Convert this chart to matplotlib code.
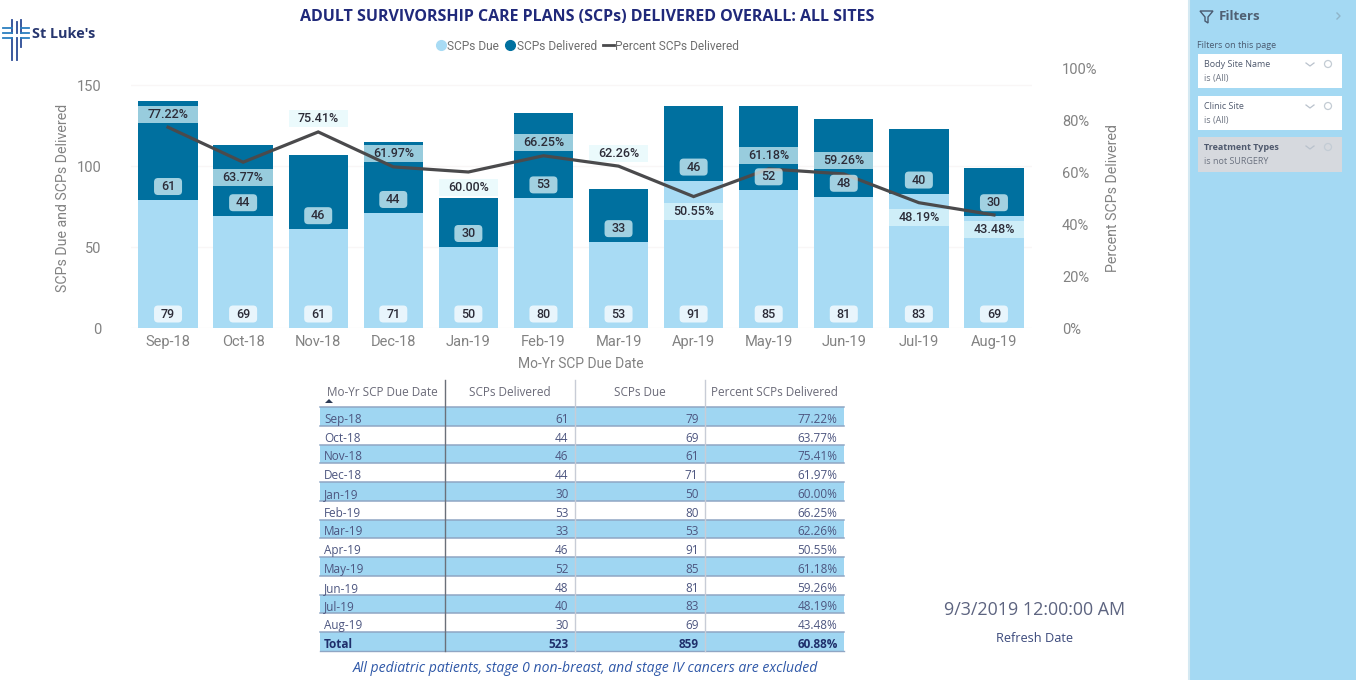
import matplotlib
matplotlib.use("Agg")
import matplotlib.pyplot as plt
from matplotlib.lines import Line2D
from matplotlib.patches import Rectangle, Polygon, FancyBboxPatch, Circle

months = ["Sep-18","Oct-18","Nov-18","Dec-18","Jan-19","Feb-19","Mar-19","Apr-19","May-19","Jun-19","Jul-19","Aug-19"]
due = [79,69,61,71,50,80,53,91,85,81,83,69]
delivered = [61,44,46,44,30,53,33,46,52,48,40,30]
percent = [77.22,63.77,75.41,61.97,60.00,66.25,62.26,50.55,61.18,59.26,48.19,43.48]
pct_above = [True,False,True,True,False,True,True,False,True,True,False,False]
totals = ["Total","523","859","60.88%"]
headers = ["Mo-Yr SCP Due Date","SCPs Delivered","SCPs Due","Percent SCPs Delivered"]

W, H = 1356, 680
LIGHT, DARK, LINE = "#a8dbf4", "#00709f", "#4a4a4c"
GREY, NAVY, TBL = "#828282", "#20297a", "#4d5680"
CHART_FONT = ["Roboto", "DejaVu Sans"]
UI_FONT = ["Open Sans", "DejaVu Sans"]
plt.rcParams["font.family"] = CHART_FONT

fig = plt.figure(figsize=(W/100, H/100), dpi=100, facecolor="white")

# full-figure pixel canvas for the report furniture
bg = fig.add_axes([0, 0, 1, 1], zorder=0)
bg.set_xlim(0, W); bg.set_ylim(H, 0); bg.axis("off")

# chart axes
L, R, T, B = 130.5, 1031.5, 68, 328
ax = fig.add_axes([L/W, 1-B/H, (R-L)/W, (B-T)/H], zorder=1)
ax.patch.set_alpha(0)
ax2 = ax.twinx()
ax2.patch.set_alpha(0)
PX1 = 100/(B-T)                 # secondary-axis units per pixel
PXX = 12/(R-L)                  # category units per pixel
ymax = (B-T)/1.62
x = list(range(len(months)))
ax.set_xlim(-0.5, 11.5); ax.set_ylim(0, ymax); ax2.set_ylim(0, 100)
ax.bar(x, due, width=0.79, color=LIGHT, zorder=2)
ax.bar(x, delivered, width=0.79, bottom=due, color=DARK, zorder=2)
ax.set_yticks([0, 50, 100, 150])
ax.yaxis.grid(True, color="#f9f6f6", lw=1); ax.set_axisbelow(True)
ax2.set_yticks([0, 20, 40, 60, 80, 100]); ax2.set_yticklabels([f"{v}%" for v in [0,20,40,60,80,100]])
ax.set_xticks(x); ax.set_xticklabels(months)
for a in (ax, ax2):
    for s in a.spines.values():
        s.set_visible(False)
    a.tick_params(length=0, labelsize=10.5, labelcolor=GREY)
ax.tick_params(axis="x", pad=5)
ax.tick_params(axis="y", pad=21)
ax2.tick_params(axis="y", pad=22)
ax.set_xlabel("Mo-Yr SCP Due Date", fontsize=10, color=GREY, labelpad=6)
ax.set_ylabel("SCPs Due and SCPs Delivered", fontsize=10.2, color=GREY, labelpad=5)
ax2.set_ylabel("Percent SCPs Delivered", fontsize=10.2, color=GREY, labelpad=6)

ax2.plot(x, percent, color=LINE, lw=2.3, zorder=3, solid_joinstyle="miter")
lab = dict(ha="center", va="center", fontsize=9, fontweight="medium", color="#2c2c38", zorder=5,
           textcoords="offset points", xycoords=("data", "data"))

def chip(cx, cy, fc, alpha):
    w, h = 28*PXX, 17*PX1
    ax2.add_patch(FancyBboxPatch((cx-w/2, cy-h/2), w, h, boxstyle=f"round,pad=0,rounding_size={4*PXX}",
                                 mutation_aspect=PX1/PXX, fc=fc, ec="none", alpha=alpha, zorder=4))

for i in x:
    off = 13 if pct_above[i] else -15
    yc = percent[i] + off*PX1
    ax2.add_patch(Rectangle((i-0.395, yc-8.5*PX1), 0.79, 17*PX1, fc="#e2f8fb", ec="none", alpha=0.68, zorder=2))
    ax2.annotate(f"{percent[i]:.2f}%", (i, percent[i]), xytext=(0, off*0.72), **lab)
    # due and delivered labels, anchored to the bottom of their own segments
    yd = due[i]*(100/ymax)
    chip(i, yd + 13.5*PX1, "#e2f8fb", 0.72)
    ax2.annotate(str(delivered[i]), (i, yd), xytext=(0, 13.5*0.72), **lab)
    chip(i, 14*PX1, "white", 0.75)
    ax2.annotate(str(due[i]), (i, 0), xytext=(0, 14*0.72), **lab)

# legend
handles = [Line2D([], [], marker="o", ls="", color=LIGHT, ms=7),
           Line2D([], [], marker="o", ls="", color=DARK, ms=7),
           Line2D([], [], color=LINE, lw=2)]
fig.legend(handles, ["SCPs Due", "SCPs Delivered", "Percent SCPs Delivered"], ncol=3, frameon=False,
           loc="center", bbox_to_anchor=(587/W, 1-46/H), fontsize=8.6, labelcolor="#6f6f6f",
           handlelength=0.9, handletextpad=0.1, columnspacing=0.5, borderpad=0)

# title
bg.text(587, 17, "ADULT SURVIVORSHIP CARE PLANS (SCPs) DELIVERED OVERALL: ALL SITES", ha="center", va="center",
        fontsize=11.5, fontweight="bold", color=NAVY, family=UI_FONT)

# logo
for xx in (12, 16.5, 21):
    top = 20 if xx != 16.5 else 22
    bg.plot([xx, xx], [top, 33], color="#2b4b95", lw=1.3)
    bg.plot([xx, xx], [38, 60 if xx != 21 else 47], color="#2b4b95", lw=1.3)
for yy in (28, 33, 38):
    bg.plot([3, 12], [yy, yy], color="#2b7fc0", lw=1.3)
    bg.plot([21, 29], [yy, yy], color="#2b7fc0", lw=1.3)
bg.text(32, 33.5, "St Luke's", ha="left", va="center", fontsize=10.4, fontweight="bold", color="#27366f", family=UI_FONT)

# table
cols = [320, 445, 575, 705, 844]
row0, rowh = 407, 18.75
rows = [[m, str(d), str(u), f"{p:.2f}%"] for m, d, u, p in zip(months, delivered, due, percent)] + [totals]
tb = dict(va="center", fontsize=8.5, family=UI_FONT)
for j, h in enumerate(headers):
    xc = (cols[j]+cols[j+1])/2
    bg.text(xc, 392, h, ha="center", color="#6a6a78", **tb)
bg.add_patch(Polygon([(325, 403), (333, 403), (329, 399)], fc="#2c3a55", ec="none"))
for r, row in enumerate(rows):
    y0 = row0 + r*rowh
    if r % 2 == 0:
        bg.add_patch(Rectangle((cols[0], y0), cols[-1]-cols[0], rowh, fc="#9fd6f2", ec="none"))
    bg.plot([cols[0], cols[-1]], [y0, y0], color="#8fa6c4", lw=1.1)
    is_tot = r == len(rows)-1
    st = dict(tb); st["fontweight"] = "bold" if is_tot else "normal"
    st["color"] = "#1f2f6b" if is_tot else TBL
    yt = y0 + rowh/2 + 3
    bg.text(cols[0]+4, yt, row[0], ha="left", **st)
    for j in (1, 2, 3):
        bg.text(cols[j+1]-6.5, yt, row[j], ha="right", **st)
bot = row0 + len(rows)*rowh
bg.plot([cols[0], cols[-1]], [bot, bot], color="#8fa6c4", lw=1)
bg.plot([cols[1], cols[1]], [380, bot], color="#6b7079", lw=1)
for c in cols[2:4]:
    bg.plot([c, c], [380, bot], color="#c8ccd6", lw=1)
bg.text(585.5, 668, "All pediatric patients, stage 0 non-breast, and stage IV cancers are excluded", ha="center", va="center",
        fontsize=10.1, style="italic", color="#2f58a8", family=UI_FONT)

# refresh card
bg.text(1035, 610, "9/3/2019 12:00:00 AM", ha="center", va="center", fontsize=12.9, color="#5d6480", family=UI_FONT)
bg.text(1035, 638, "Refresh Date", ha="center", va="center", fontsize=9.2, color="#3c4a7c", family=UI_FONT)

# filter pane
bg.add_patch(Rectangle((1189, 0), W-1189, H, fc="#a4d9f3", ec="none"))
bg.plot([1189, 1189], [0, H], color="#d5e9f2", lw=1.5)
bg.add_patch(Polygon([(1200, 11), (1213, 11), (1208, 17), (1208, 23), (1205, 21), (1205, 17)], fc="none", ec="#4a5a70", lw=1))
bg.text(1219, 16, "Filters", ha="left", va="center", fontsize=9.5, fontweight="bold", color="#4f6072", family=UI_FONT)
bg.text(1197, 45, "Filters on this page", ha="left", va="center", fontsize=6.5, color="#4a5a70", family=UI_FONT)
bg.plot([1337, 1340, 1337], [13, 16, 19], color="#8fb4c8", lw=1)
cards = [(54, 88, "white", "Body Site Name", "is (All)", "normal"),
         (96, 130, "white", "Clinic Site", "is (All)", "normal"),
         (137, 172, "#d6d9de", "Treatment Types", "is not SURGERY", "bold")]
for y0, y1, fc, name, val, w in cards:
    bg.add_patch(Rectangle((1198, y0), 144, y1-y0, fc=fc, ec="none"))
    bg.text(1204, y0+10.5, name, ha="left", va="center", fontsize=6.5, fontweight=w, color="#505a6e", family=UI_FONT)
    bg.text(1204, y0+25, val, ha="left", va="center", fontsize=6.5, color="#6b7280", family=UI_FONT)
    bg.plot([1306, 1310, 1314], [y0+9, y0+12, y0+9], color="#b9c2cc", lw=0.9)
    bg.add_patch(Circle((1328, y0+10), 3.5, fc="none", ec="#c3ccd4", lw=0.9))

fig.savefig("out.png", dpi=100, facecolor="white")
